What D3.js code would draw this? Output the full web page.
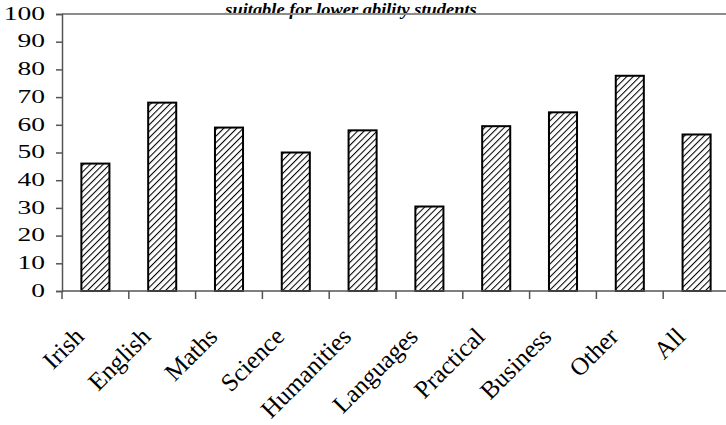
<!DOCTYPE html>
<html>
<head>
<meta charset="utf-8">
<script src="https://cdn.jsdelivr.net/npm/d3@7"></script>
<style>
  html, body { margin: 0; padding: 0; background: #fff; }
  svg { display: block; }
  text { font-family: "Liberation Serif", "Times New Roman", serif; fill: #000; }
</style>
</head>
<body>
<svg id="chart" width="726" height="425"></svg>
<script>
// Share of teachers (%) per subject area
const categories = ["Irish", "English", "Maths", "Science", "Humanities",
                    "Languages", "Practical", "Business", "Other", "All"];
const values = [46, 68, 59, 50, 58, 30.5, 59.5, 64.5, 77.7, 56.5];
const yTicks = [0, 10, 20, 30, 40, 50, 60, 70, 80, 90, 100];
const titleLine = "suitable for lower ability students";

const svg = d3.select("#chart");
const plot = { left: 62, right: 730, top: 14, bottom: 291 };

const x = d3.scaleBand()
  .domain(categories)
  .range([plot.left, plot.right])
  .paddingInner(0.58)
  .paddingOuter(0.29);

const y = d3.scaleLinear()
  .domain([0, 100])
  .range([plot.bottom, plot.top]);

// Diagonal hatch fill
const defs = svg.append("defs");
const pat = defs.append("pattern")
  .attr("id", "hatch")
  .attr("patternUnits", "userSpaceOnUse")
  .attr("width", 4.6)
  .attr("height", 4.6)
  .attr("patternTransform", "rotate(45)");
pat.append("rect").attr("width", 4.6).attr("height", 4.6).attr("fill", "#fff");
pat.append("line")
  .attr("x1", 0).attr("y1", 0).attr("x2", 0).attr("y2", 4.6)
  .attr("stroke", "#000").attr("stroke-width", 2.1);

// Title (last line of the heading, just above the frame), stretched to its full width
svg.append("text")
  .attr("transform", "translate(351,15) scale(1.15,1)")
  .attr("text-anchor", "middle")
  .style("font-family", "'Liberation Serif', 'DejaVu Serif', serif")
  .style("font-size", "16px")
  .style("font-weight", "bold")
  .style("font-style", "italic")
  .text(titleLine);

// Top border of the plot area
svg.append("line")
  .attr("x1", plot.left).attr("x2", 726)
  .attr("y1", y(100)).attr("y2", y(100))
  .attr("stroke", "#8c8c8c").attr("stroke-width", 2);

// Bars
svg.append("g")
  .selectAll("rect")
  .data(categories.map((c, i) => ({ c, v: values[i] })))
  .join("rect")
  .attr("x", d => x(d.c))
  .attr("width", x.bandwidth())
  .attr("y", d => y(d.v))
  .attr("height", d => y(0) - y(d.v))
  .attr("fill", "url(#hatch)")
  .attr("stroke", "#000")
  .attr("stroke-width", 2);

// Y axis: line and ticks from d3.axisLeft, wide labels drawn alongside
const yAxis = svg.append("g")
  .attr("transform", `translate(${plot.left},0)`)
  .call(d3.axisLeft(y).tickValues(yTicks).tickSize(6).tickFormat(""));
yAxis.select(".domain").attr("stroke", "#555").attr("stroke-width", 1.5);
yAxis.selectAll(".tick line").attr("stroke", "#555").attr("stroke-width", 1.5);

svg.append("g")
  .selectAll("text")
  .data(yTicks)
  .join("text")
  .attr("text-anchor", "end")
  .attr("transform", d => `translate(45,${y(d)}) scale(1.45,1)`)
  .attr("dy", "0.3em")
  .style("font-size", "19px")
  .text(d => d);

// X axis: baseline with ticks at category boundaries
const step = x.step();
const boundaries = d3.range(categories.length + 1).map(i => plot.left + i * step);
const xAxis = svg.append("g");
xAxis.append("line")
  .attr("x1", plot.left).attr("x2", 726)
  .attr("y1", y(0)).attr("y2", y(0))
  .attr("stroke", "#555").attr("stroke-width", 1.5);
xAxis.selectAll("line.tk")
  .data(boundaries)
  .join("line")
  .attr("class", "tk")
  .attr("x1", d => d).attr("x2", d => d)
  .attr("y1", y(0)).attr("y2", y(0) + 8)
  .attr("stroke", "#555").attr("stroke-width", 1.5);

// Rotated category labels
xAxis.selectAll("text")
  .data(categories)
  .join("text")
  .attr("text-anchor", "end")
  .attr("transform", d => `translate(${x(d) + x.bandwidth() / 2 - 10},${y(0) + 47}) rotate(-45)`)
  .style("font-size", "25px")
  .text(d => d);
</script>
</body>
</html>
